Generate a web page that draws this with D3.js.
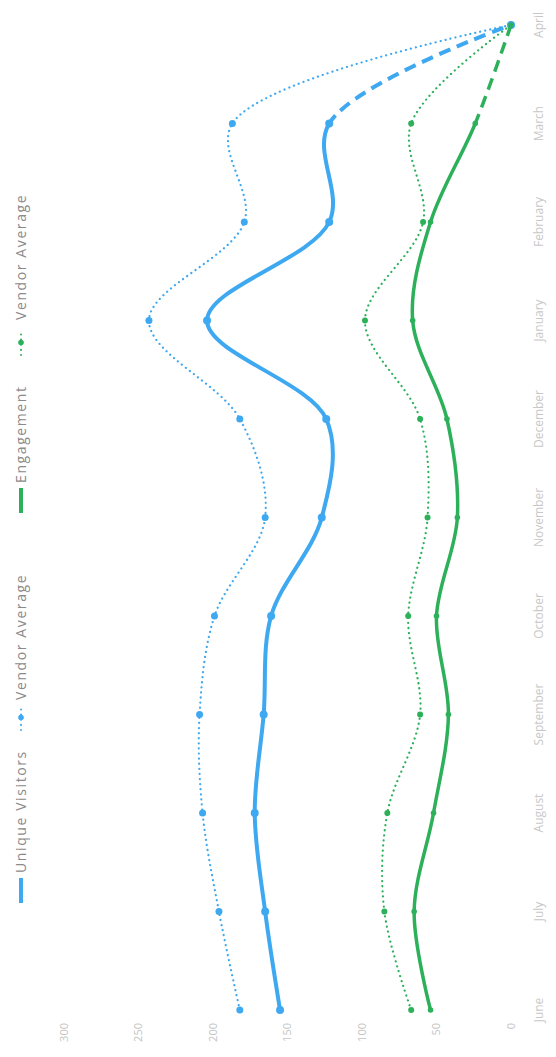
<!DOCTYPE html>
<html><head><meta charset="utf-8">
<script src="https://cdn.jsdelivr.net/npm/d3@7"></script>
<style>html,body{margin:0;background:#fff}svg{display:block}</style>
</head><body><svg id="chart" width="556" height="1057"></svg>
<script>
// Monthly figures, June through April
const months = ["June","July","August","September","October","November","December","January","February","March","April"];
const uniqueVisitors      = [155,165,172,166,161,127,124,204,122,122,0];
const visitorsVendorAvg   = [182,196,207,209,199,165,182,243,179,187,0];
const engagement          = [54,65,52,42,50,36,43,66,54,24,0];
const engagementVendorAvg = [67,85,83,61,69,56,61,98,59,67,0];
const yTicks = [0,50,100,150,200,250,300];
const forecastFrom = "March";

const BLUE = "#3ea8f0", GREEN = "#2cb05a";
const W = 1057, H = 556;

const svg = d3.select("#chart");
// the chart is laid out landscape and turned a quarter turn
const g = svg.append("g").attr("transform", `translate(0,${W}) rotate(-90)`);

const x = d3.scalePoint().domain(months).range([47, 1032]);
const y = d3.scaleLinear().domain([0,300]).range([511, 64]);

// value axis labels
g.append("g").selectAll("text").data(yTicks).join("text")
  .attr("x", 34).attr("y", d => y(d)).attr("dy", "0.35em")
  .attr("text-anchor", "end")
  .attr("font-family", "Open Sans, sans-serif").attr("font-size", 11)
  .attr("fill", "#c4c4c4").text(d => d);

// month labels
g.append("g").selectAll("text").data(months).join("text")
  .attr("x", d => x(d)).attr("y", 543)
  .attr("text-anchor", "middle")
  .attr("font-family", "Open Sans, sans-serif").attr("font-size", 12)
  .attr("fill", "#c8c8c8").text(d => d);

// clip regions: actual data up to March, projection after
const defs = svg.append("defs");
defs.append("clipPath").attr("id", "actual").append("rect")
  .attr("x", 0).attr("y", 0).attr("width", x(forecastFrom)).attr("height", H);
defs.append("clipPath").attr("id", "projected").append("rect")
  .attr("x", x(forecastFrom)).attr("y", 0).attr("width", W).attr("height", H);

const line = d3.line()
  .x((d,i) => x(months[i])).y(d => y(d))
  .curve(d3.curveCatmullRom.alpha(0.5));

function drawSolid(values, color, width, r) {
  g.append("path").attr("d", line(values)).attr("fill", "none")
    .attr("stroke", color).attr("stroke-width", width)
    .attr("stroke-linecap", "round").attr("clip-path", "url(#actual)");
  g.append("path").attr("d", line(values)).attr("fill", "none")
    .attr("stroke", color).attr("stroke-width", width)
    .attr("stroke-dasharray", "12 7").attr("clip-path", "url(#projected)");
  g.append("g").selectAll("circle").data(values).join("circle")
    .attr("cx", (d,i) => x(months[i])).attr("cy", d => y(d))
    .attr("r", r).attr("fill", color);
}
function drawDotted(values, color, r) {
  g.append("path").attr("d", line(values)).attr("fill", "none")
    .attr("stroke", color).attr("stroke-width", 2.2)
    .attr("stroke-linecap", "round").attr("stroke-dasharray", "0.1 5");
  g.append("g").selectAll("circle").data(values).join("circle")
    .attr("cx", (d,i) => x(months[i])).attr("cy", d => y(d))
    .attr("r", r).attr("fill", color);
}

drawDotted(visitorsVendorAvg, BLUE, 3.5);
drawDotted(engagementVendorAvg, GREEN, 3);
drawSolid(uniqueVisitors, BLUE, 4, 4);
drawSolid(engagement, GREEN, 3.5, 2.8);

// legend
const legend = g.append("g");
const legendItems = [
  {label: "Unique Visitors", color: BLUE, dotted: false, sx: 154, tx: 184},
  {label: "Vendor Average", color: BLUE, dotted: true, sx: 327, tx: 357},
  {label: "Engagement", color: GREEN, dotted: false, sx: 544, tx: 574},
  {label: "Vendor Average", color: GREEN, dotted: true, sx: 702, tx: 737}
];
legendItems.forEach(it => {
  if (it.dotted) {
    legend.append("line").attr("x1", it.sx).attr("x2", it.sx + 25)
      .attr("y1", 21).attr("y2", 21).attr("stroke", it.color)
      .attr("stroke-width", 2).attr("stroke-linecap", "round")
      .attr("stroke-dasharray", "0.1 5");
    legend.append("circle").attr("cx", it.sx + 12.5).attr("cy", 21)
      .attr("r", 2.8).attr("fill", it.color);
  } else {
    legend.append("rect").attr("x", it.sx).attr("y", 19)
      .attr("width", 25).attr("height", 4).attr("fill", it.color);
  }
  legend.append("text").attr("x", it.tx).attr("y", 21).attr("dy", "0.35em")
    .attr("font-family", "Open Sans, sans-serif").attr("font-size", 14)
    .attr("letter-spacing", 1.6)
    .attr("fill", "#8a8a8a").text(it.label);
});
</script>
</body></html>
